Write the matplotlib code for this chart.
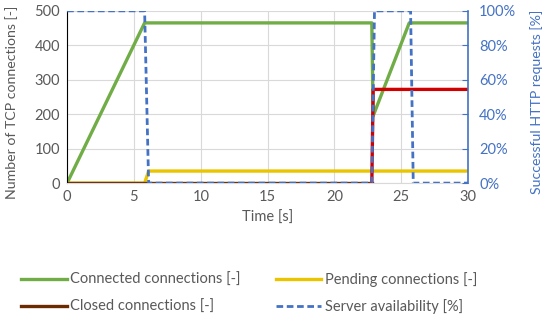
import matplotlib.pyplot as plt
from matplotlib.ticker import PercentFormatter

# data
t_connected = [0, 5.8, 22.8, 22.9, 25.6, 30]
connected = [0, 465, 465, 195, 465, 465]

t_pending = [0, 5.8, 6.1, 30]
pending = [0, 0, 35, 35]

t_closed = [0, 22.8]
closed = [0, 0]
t_closed2 = [22.8, 22.9, 30]
closed2 = [0, 272, 272]

t_avail = [0, 5.8, 6.1, 22.8, 23.0, 25.7, 25.9, 30]
avail = [100, 100, 0, 0, 100, 100, 0, 0]

xticks = [0, 5, 10, 15, 20, 25, 30]

plt.rcParams['font.family'] = ['Lato', 'DejaVu Sans']
grey = '#595959'
blue = '#4472C4'

fig = plt.figure(figsize=(5.5, 3.19), dpi=100)
ax = fig.add_axes([0.122, 0.426, 0.729, 0.54])
ax2 = ax.twinx()

l1, = ax.plot(t_connected, connected, color='#70AD47', lw=2.4, label='Connected connections [-]')
l2, = ax.plot(t_pending, pending, color='#EBC400', lw=2.4, label='Pending connections [-]')
l3, = ax.plot(t_closed, closed, color='#6B2A00', lw=2.4, label='Closed connections [-]')
ax.plot(t_closed2, closed2, color='#D00000', lw=2.4)
l4, = ax2.plot(t_avail, avail, color=blue, lw=2.0, ls=(0, (2.4, 1.3)), label='Server availability [%]')

ax.set_xlim(0, 30)
ax.set_ylim(0, 500)
ax2.set_ylim(0, 100)
ax.set_xticks(xticks)
ax.set_yticks(range(0, 501, 100))
ax2.set_yticks(range(0, 101, 20))
ax2.yaxis.set_major_formatter(PercentFormatter(decimals=0))

ax.grid(True, color='#D9D9D9', lw=0.8)
ax.set_axisbelow(True)
for s in ['top', 'right']:
    ax.spines[s].set_visible(False)
for s in ['top', 'left', 'bottom']:
    ax2.spines[s].set_visible(False)
ax.spines['bottom'].set_color('#D9D9D9')
ax.spines['left'].set_color('black')
ax2.spines['right'].set_color(blue)
ax2.spines['right'].set_linewidth(1.2)

ax.tick_params(axis='both', colors=grey, labelsize=10.5, length=0, pad=5)
ax2.tick_params(axis='y', colors=blue, labelcolor=blue, labelsize=10.5, length=4, direction='in', pad=8)

ax.set_xlabel('Time [s]', color=grey, fontsize=10.5, labelpad=5)
ax.set_ylabel('Number of TCP connections [-]', color=grey, fontsize=10.2)
ax.yaxis.set_label_coords(-0.122, 0.47)
ax2.set_ylabel('Successful HTTP requests [%]', color=blue, fontsize=10.2)
ax2.yaxis.set_label_coords(1.155, 0.47)

# legend filled row by row like the reference
fig.legend(handles=[l1, l3, l2, l4], loc='lower left', bbox_to_anchor=(0.015, -0.027),
           ncol=2, frameon=False, fontsize=10.5, handlelength=3.1, handletextpad=0.25,
           columnspacing=2.4, labelcolor=grey, labelspacing=0.85)

fig.savefig('out.png', dpi=100)
